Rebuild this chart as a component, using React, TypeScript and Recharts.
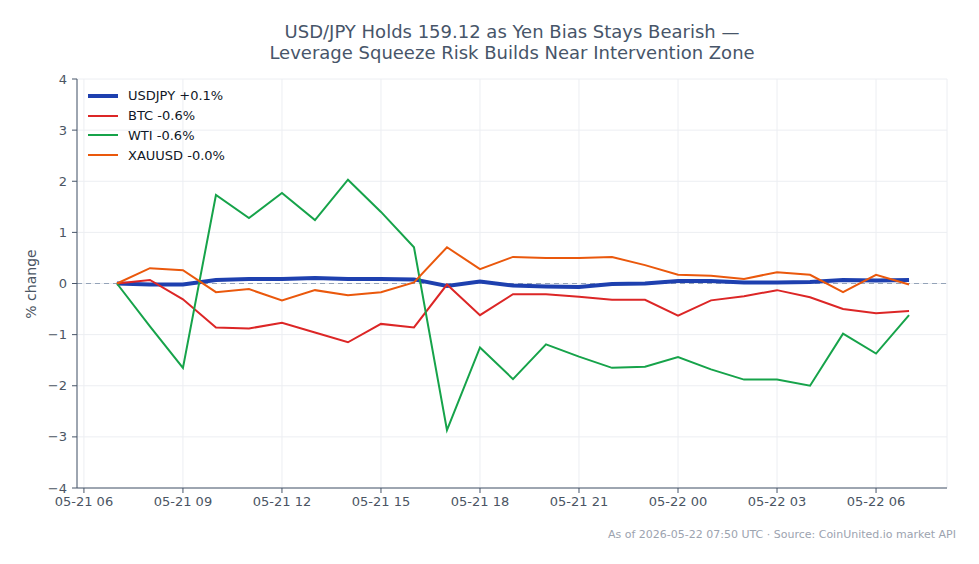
import {
  LineChart,
  Line,
  XAxis,
  YAxis,
  CartesianGrid,
  ReferenceLine,
} from 'recharts';

// hours after 05-21 06:00 UTC
const hoursFromStart = [1, 2, 3, 4, 5, 6, 7, 8, 9, 10, 11, 12, 13, 14, 15, 16, 17, 18, 19, 20, 21, 22, 23, 24, 25];

const usdjpy = [0, -0.02, -0.02, 0.07, 0.09, 0.09, 0.11, 0.09, 0.09, 0.08, -0.05, 0.04, -0.04, -0.06, -0.07, -0.01, 0.0, 0.05, 0.05, 0.02, 0.02, 0.03, 0.07, 0.06, 0.07];
const btc = [0, 0.07, -0.31, -0.86, -0.88, -0.77, -0.96, -1.15, -0.79, -0.86, -0.02, -0.62, -0.21, -0.21, -0.26, -0.32, -0.32, -0.63, -0.33, -0.25, -0.13, -0.27, -0.5, -0.58, -0.54];
const wti = [0, -0.84, -1.65, 1.73, 1.28, 1.77, 1.24, 2.03, 1.4, 0.71, -2.87, -1.25, -1.87, -1.19, -1.43, -1.65, -1.63, -1.44, -1.68, -1.88, -1.88, -2.0, -0.98, -1.37, -0.62];
const xauusd = [0, 0.3, 0.26, -0.17, -0.11, -0.33, -0.13, -0.23, -0.17, 0.02, 0.71, 0.28, 0.52, 0.5, 0.5, 0.52, 0.36, 0.17, 0.15, 0.09, 0.22, 0.17, -0.17, 0.17, -0.02];

const xTicks = [0, 3, 6, 9, 12, 15, 18, 21, 24];
const xTickLabels = ['05-21 06', '05-21 09', '05-21 12', '05-21 15', '05-21 18', '05-21 21', '05-22 00', '05-22 03', '05-22 06'];
const yTicks = [-4, -3, -2, -1, 0, 1, 2, 3, 4];

const series = [
  { key: 'usdjpy', name: 'USDJPY +0.1%', color: '#1e40af', width: 4 },
  { key: 'btc', name: 'BTC -0.6%', color: '#dc2626', width: 2 },
  { key: 'wti', name: 'WTI -0.6%', color: '#16a34a', width: 2 },
  { key: 'xauusd', name: 'XAUUSD -0.0%', color: '#ea580c', width: 2 },
];

const data = hoursFromStart.map((h, i) => ({
  h,
  usdjpy: usdjpy[i],
  btc: btc[i],
  wti: wti[i],
  xauusd: xauusd[i],
}));

const axisColor = '#475569';
const textColor = '#4b5563';

function LegendBox() {
  return (
    <div style={{ position: 'absolute', left: 88, top: 86, display: 'flex', flexDirection: 'column' }}>
      {series.map((s) => (
        <div key={s.key} style={{ display: 'flex', alignItems: 'center', height: 19.8 }}>
          <div style={{ width: 30, height: s.width, background: s.color, marginRight: 10 }} />
          <span style={{ fontSize: 13, color: '#111827' }}>{s.name}</span>
        </div>
      ))}
    </div>
  );
}

export default function App() {
  return (
    <div
      style={{
        position: 'absolute',
        left: 0,
        top: 0,
        width: 979,
        height: 564,
        background: '#fff',
        fontFamily: '"DejaVu Sans", sans-serif',
      }}
    >
      <div
        style={{
          position: 'absolute',
          left: 77,
          width: 870,
          top: 21,
          textAlign: 'center',
          fontSize: 18,
          lineHeight: '21px',
          color: '#475569',
        }}
      >
        USD/JPY Holds 159.12 as Yen Bias Stays Bearish —<br />
        Leverage Squeeze Risk Builds Near Intervention Zone
      </div>
      <div
        style={{
          position: 'absolute',
          left: 31,
          top: 284,
          transform: 'translate(-50%, -50%) rotate(-90deg)',
          fontSize: 14,
          color: textColor,
          whiteSpace: 'nowrap',
        }}
      >
        % change
      </div>
      <LineChart width={979} height={564} data={data} margin={{ top: 79, right: 32, bottom: 46, left: 20 }}>
        <CartesianGrid stroke="#eceef2" />
        <XAxis
          dataKey="h"
          type="number"
          domain={[-0.21, 26.15]}
          ticks={xTicks}
          tickFormatter={(v: number) => xTickLabels[xTicks.indexOf(v)] ?? ''}
          allowDataOverflow
          height={30}
          tickSize={5}
          tickMargin={4}
          stroke={axisColor}
          tick={{ fill: textColor, fontSize: 13 }}
        />
        <YAxis
          type="number"
          domain={[-4, 4]}
          ticks={yTicks}
          tickFormatter={(v: number) => (v < 0 ? `\u2212${Math.abs(v)}` : `${v}`)}
          width={57}
          tickSize={5}
          tickMargin={5}
          stroke={axisColor}
          tick={{ fill: textColor, fontSize: 13 }}
        />
        <ReferenceLine y={0} stroke="#94a3b8" strokeDasharray="5 4" strokeWidth={1} />
        {series.map((s) => (
          <Line
            key={s.key}
            type="linear"
            dataKey={s.key}
            name={s.name}
            stroke={s.color}
            strokeWidth={s.width}
            dot={false}
            activeDot={false}
            isAnimationActive={false}
          />
        ))}
      </LineChart>
      <LegendBox />
      <div
        style={{
          position: 'absolute',
          right: 23,
          top: 528,
          fontSize: 11,
          color: '#9ca3af',
          whiteSpace: 'nowrap',
        }}
      >
        As of 2026-05-22 07:50 UTC · Source: CoinUnited.io market API
      </div>
    </div>
  );
}
